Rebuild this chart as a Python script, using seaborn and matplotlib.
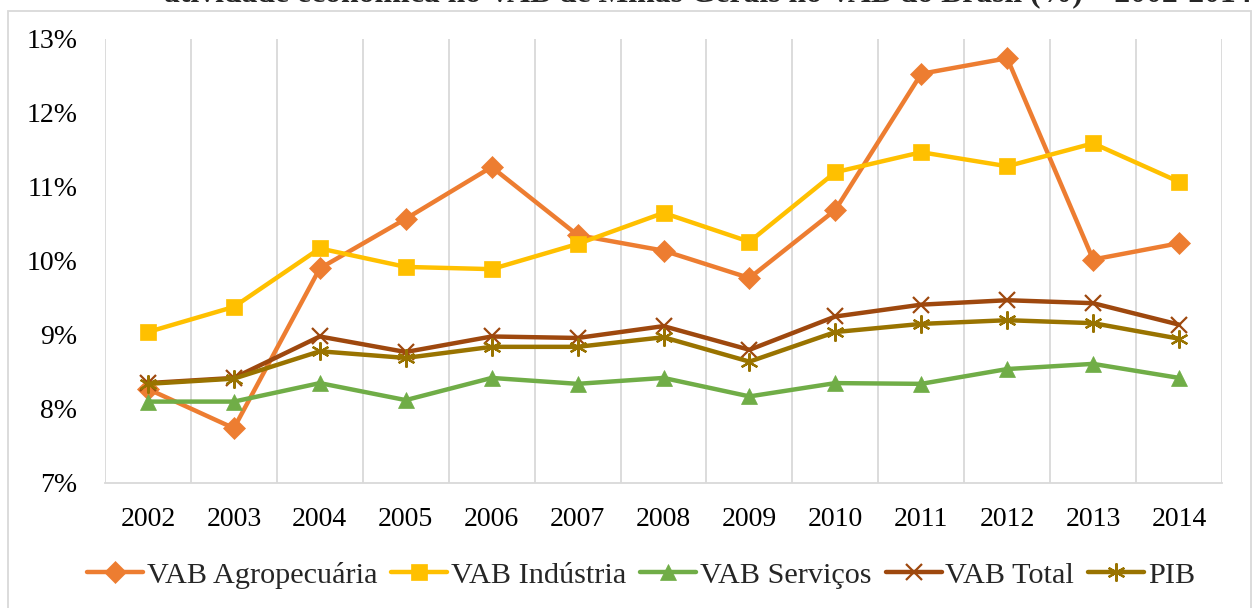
import pandas as pd
import numpy as np
import matplotlib.pyplot as plt
import matplotlib.patches as mpatches
import seaborn as sns

years = ['2002', '2003', '2004', '2005', '2006', '2007', '2008',
         '2009', '2010', '2011', '2012', '2013', '2014']

agro = [8.27, 7.74, 9.90, 10.57, 11.27, 10.35, 10.14, 9.77, 10.69, 12.53, 12.74, 10.02, 10.24]
industria = [9.04, 9.38, 10.17, 9.92, 9.89, 10.23, 10.65, 10.26, 11.20, 11.47, 11.28, 11.59, 11.07]
servicos = [8.10, 8.10, 8.35, 8.12, 8.42, 8.34, 8.42, 8.17, 8.35, 8.34, 8.54, 8.61, 8.42]
vab_total = [8.35, 8.42, 8.98, 8.77, 8.98, 8.96, 9.12, 8.80, 9.25, 9.41, 9.47, 9.43, 9.14]
pib = [8.34, 8.41, 8.78, 8.69, 8.84, 8.84, 8.97, 8.64, 9.04, 9.15, 9.20, 9.16, 8.95]

series = ['VAB Agropecuária', 'VAB Indústria', 'VAB Serviços', 'VAB Total', 'PIB']
values = [agro, industria, servicos, vab_total, pib]
colors = ['#ED7D31', '#FFC000', '#70AD47', '#9E480E', '#997300']
markers = ['D', 's', '^', 'x', (6, 2, 0)]
msizes = [11, 12, 11, 11, 13]

sns.set_style('white')
plt.rcParams['font.family'] = ['Liberation Serif', 'DejaVu Serif']

fig = plt.figure(figsize=(12.54, 6.08), dpi=100)
ax = fig.add_axes([105 / 1254, 1 - 483 / 608, (1222 - 105) / 1254, (483 - 39) / 608])

x = np.arange(len(years))
for name, vals, c, m, ms in zip(series, values, colors, markers, msizes):
    df = pd.DataFrame({'x': x, 'y': vals})
    # line-only markers (x, asterisk) need a visible edge
    mew = 1.6 if (m == 'x' or isinstance(m, tuple)) else 0.5
    sns.lineplot(data=df, x='x', y='y', ax=ax, color=c, lw=3.2,
                 marker=m, markersize=ms, markeredgecolor=c,
                 markeredgewidth=mew, label=name)

ax.set_xlim(-0.5, len(years) - 0.5)
ax.set_ylim(7, 13)
ax.set_xticks(x)
ax.set_xticklabels(years)
ax.set_xticks(np.arange(-0.5, len(years)), minor=True)
ax.set_yticks(np.arange(7, 14, 1))
ax.set_yticklabels([f'{v}%' for v in range(7, 14)])
ax.grid(False)
ax.grid(True, which='minor', axis='x', color='#d9d9d9', lw=1.3)
ax.tick_params(axis='both', which='both', length=0, labelsize=20, colors='black')
ax.tick_params(axis='x', pad=17.5)
ax.tick_params(axis='y', pad=20)
ax.set_xlabel('')
ax.set_ylabel('')
for s in ['top', 'right', 'left']:
    ax.spines[s].set_visible(False)
ax.spines['bottom'].set_color('#d9d9d9')
ax.spines['bottom'].set_linewidth(1.3)

leg = ax.legend(loc='center', bbox_to_anchor=((641 - 105) / 1117, -(575 - 483) / 444), ncol=5,
                frameon=False, fontsize=21.8, handlelength=1.85, handletextpad=0.13,
                columnspacing=0.46, borderaxespad=0, borderpad=0)

fig.add_artist(mpatches.Rectangle((8 / 1254, -0.05), (1251 - 8) / 1254, 1 - 11 / 608 + 0.05,
                                  transform=fig.transFigure, fill=False,
                                  edgecolor='#d9d9d9', lw=1.3))

fig.text(1251 / 1254, 1 - 1.5 / 608,
         'atividade econômica no VAB de Minas Gerais no VAB do Brasil (%) – 2002-2014',
         ha='right', va='baseline', fontsize=22.8, fontweight='bold')

fig.savefig('out.png', dpi=100)
